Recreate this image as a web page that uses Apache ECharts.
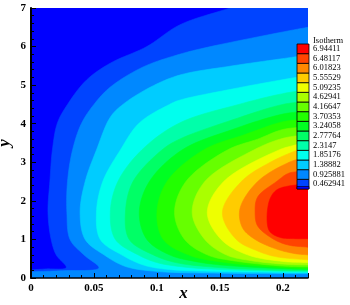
<!DOCTYPE html>
<html><head><meta charset="utf-8">
<script src="https://cdn.jsdelivr.net/npm/echarts@6/dist/echarts.min.js"></script>
<style>html,body{margin:0;padding:0;background:#fff}#c{width:350px;height:305px}</style>
</head><body><div id="c"></div>
<script>
// ---- data ----
const xTicks = [0, 0.05, 0.1, 0.15, 0.2];
const xTickLabels = ['0', '0.05', '0.1', '0.15', '0.2'];
const yTicks = [0, 1, 2, 3, 4, 5, 6, 7];
const yTickLabels = ['0', '1', '2', '3', '4', '5', '6', '7'];
const levels = [0.462941, 0.925881, 1.38882, 1.85176, 2.3147, 2.77764, 3.24058, 3.70353, 4.16647, 4.62941, 5.09235, 5.55529, 6.01823, 6.48117, 6.94411];
const levelLabels = ['0.462941', '0.925881', '1.38882', '1.85176', '2.3147', '2.77764', '3.24058', '3.70353', '4.16647', '4.62941', '5.09235', '5.55529', '6.01823', '6.48117', '6.94411'];

// isotherm lines (x, y), one per level
const iso1 = [[0.158,7],[0.118,6.56],[0.092,6.0],[0.063,5.57],[0.044,5.13],[0.029,4.5],[0.021,4.02],[0.017,3.32],[0.015,2.5],[0.0135,1.7],[0.016,1.0],[0.02,0.6],[0.028,0.27],[0.012,0.235],[0,0.21]];
const iso2 = [[0.22,6.5],[0.205,6.41],[0.14,5.98],[0.118,5.8],[0.089,5.47],[0.063,4.95],[0.05,4.5],[0.04,4.0],[0.033,3.32],[0.029,2.5],[0.0285,1.7],[0.031,1.0],[0.042,0.6],[0.054,0.26],[0.025,0.19],[0,0.16]];
const iso3 = [[0.22,5.78],[0.205,5.71],[0.16,5.5],[0.118,5.26],[0.095,4.95],[0.073,4.5],[0.063,4.17],[0.052,3.32],[0.043,2.5],[0.039,1.7],[0.043,1.0],[0.058,0.6],[0.075,0.3],[0.1,0.17],[0.15,0.125],[0.22,0.11]];
const iso4 = [[0.22,5.25],[0.205,5.17],[0.16,4.9],[0.118,4.61],[0.11,4.5],[0.086,4.02],[0.071,3.32],[0.057,2.5],[0.052,1.7],[0.055,1.0],[0.072,0.6],[0.09,0.33],[0.11,0.22],[0.15,0.17],[0.22,0.14]];
const iso5 = [[0.22,4.88],[0.2,4.78],[0.165,4.5],[0.118,4.02],[0.088,3.32],[0.069,2.5],[0.063,1.7],[0.067,1.0],[0.085,0.6],[0.1,0.4],[0.12,0.29],[0.15,0.22],[0.22,0.16]];
const iso6 = [[0.22,4.58],[0.2,4.5],[0.16,4.1],[0.118,3.6],[0.104,3.32],[0.081,2.5],[0.075,1.7],[0.078,1.0],[0.097,0.6],[0.115,0.4],[0.15,0.27],[0.2,0.2],[0.22,0.19]];
const iso7 = [[0.22,4.33],[0.2,4.25],[0.16,3.85],[0.12,3.32],[0.094,2.5],[0.086,1.7],[0.092,1.0],[0.11,0.6],[0.13,0.43],[0.15,0.34],[0.2,0.24],[0.22,0.22]];
const iso8 = [[0.22,4.12],[0.2,4.05],[0.17,3.72],[0.137,3.32],[0.108,2.5],[0.1,1.7],[0.105,1.0],[0.125,0.6],[0.15,0.42],[0.2,0.27],[0.22,0.25]];
const iso9 = [[0.22,3.92],[0.2,3.85],[0.18,3.6],[0.156,3.32],[0.123,2.5],[0.114,1.7],[0.122,1.0],[0.14,0.6],[0.16,0.45],[0.2,0.31],[0.22,0.29]];
const iso10 = [[0.22,3.72],[0.2,3.62],[0.177,3.32],[0.138,2.5],[0.128,1.7],[0.138,1.0],[0.155,0.6],[0.175,0.45],[0.2,0.36],[0.22,0.34]];
const iso11 = [[0.22,3.55],[0.21,3.45],[0.197,3.32],[0.153,2.5],[0.14,1.7],[0.151,1.0],[0.172,0.6],[0.2,0.43],[0.22,0.40]];
const iso12 = [[0.22,3.40],[0.212,3.32],[0.19,3.0],[0.167,2.5],[0.152,1.7],[0.163,1.0],[0.18,0.7],[0.195,0.55],[0.22,0.47]];
const iso13 = [[0.22,3.15],[0.205,3.0],[0.18,2.5],[0.166,1.8],[0.168,1.3],[0.178,1.0],[0.195,0.75],[0.21,0.63],[0.22,0.60]];
const iso14 = [[0.22,2.77],[0.205,2.72],[0.195,2.5],[0.18,2.1],[0.178,1.7],[0.18,1.35],[0.193,1.0],[0.205,0.85],[0.22,0.80]];
const iso15 = [[0.22,2.42],[0.21,2.41],[0.195,2.28],[0.189,1.97],[0.189,1.24],[0.197,1.06],[0.21,1.02],[0.22,1.02]];
const isolines = [iso1, iso2, iso3, iso4, iso5, iso6, iso7, iso8, iso9, iso10, iso11, iso12, iso13, iso14, iso15];

// ---- styling ----
const palette = ['#0000ff','#0044ff','#0088ff','#00ccff','#00ffee','#00ffaa','#00ff66','#00ff22',
                 '#22ff00','#66ff00','#aaff00','#eeff00','#ffcc00','#ff8800','#ff4400','#ff0000'];
const X_MIN = 0, X_MAX = 0.22, Y_MIN = 0, Y_MAX = 7;
const serif = "'Liberation Serif', 'DejaVu Serif', serif";

// centripetal Catmull-Rom drawing of a traced line (pixel space), passes through every traced point
function smoothPath(P, n) {
  if (P.length < 3) return P.slice();
  const ext = [[2*P[0][0]-P[1][0], 2*P[0][1]-P[1][1]]].concat(P,
    [[2*P[P.length-1][0]-P[P.length-2][0], 2*P[P.length-1][1]-P[P.length-2][1]]]);
  const out = [];
  const dist = (a, b) => Math.max(Math.pow(Math.hypot(b[0]-a[0], b[1]-a[1]), 0.5), 1e-4);
  const lerp = (a, b, ta, tb, t) => [a[0]*(tb-t)/(tb-ta) + b[0]*(t-ta)/(tb-ta), a[1]*(tb-t)/(tb-ta) + b[1]*(t-ta)/(tb-ta)];
  for (let i = 1; i < ext.length - 2; i++) {
    const p0 = ext[i-1], p1 = ext[i], p2 = ext[i+1], p3 = ext[i+2];
    const t0 = 0, t1 = t0 + dist(p0, p1), t2 = t1 + dist(p1, p2), t3 = t2 + dist(p2, p3);
    for (let j = 0; j < n; j++) {
      const t = t1 + (t2 - t1) * j / n;
      const A1 = lerp(p0, p1, t0, t1, t), A2 = lerp(p1, p2, t1, t2, t), A3 = lerp(p2, p3, t2, t3, t);
      const B1 = lerp(A1, A2, t0, t2, t), B2 = lerp(A2, A3, t1, t3, t);
      out.push(lerp(B1, B2, t1, t2, t));
    }
  }
  out.push(P[P.length-1]);
  return out;
}

// closing of each region (above the level) along the domain boundary
function closing(line) {
  const extra = [];
  const last = line[line.length - 1], first = line[0];
  if (last[0] === X_MIN) extra.push([X_MIN, Y_MIN], [X_MAX, Y_MIN]);
  if (first[1] === Y_MAX) extra.push([X_MAX, Y_MAX]);
  return extra;
}

function labelFor(ticks, labels) {
  return v => { const i = ticks.findIndex(t => Math.abs(t - v) < 1e-9); return i >= 0 ? labels[i] : ''; };
}

const chart = echarts.init(document.getElementById('c'), null, {renderer: 'canvas'});

const gridLeft = 31, gridTop = 8, gridRight = 42, gridBottom = 27;
// legend layout
const lgX = 297, lgW = 12, lgTop = 44, lgH = 145;
const boxH = lgH / levels.length;
const graphics = [];
levels.forEach((lv, i) => {
  const top = lgTop + (levels.length - 1 - i) * boxH;
  graphics.push({type: 'rect', shape: {x: lgX, y: top, width: lgW, height: boxH},
    style: {fill: palette[i + 1], stroke: '#000', lineWidth: 0.8}, z: 20});
  graphics.push({type: 'text', x: lgX + 16, y: top + boxH / 2,
    style: {text: levelLabels[i], fill: '#000', font: "8.5px " + serif, verticalAlign: 'middle'}, z: 20});
});
graphics.push({type: 'rect', shape: {x: lgX, y: lgTop + lgH - 2.5, width: lgW, height: 2.5},
  style: {fill: palette[0], stroke: '#000', lineWidth: 0.6}, z: 21});
graphics.push({type: 'text', x: lgX + 16, y: 41,
  style: {text: 'Isotherm', fill: '#000', font: "8.5px " + serif, verticalAlign: 'middle'}, z: 20});

chart.setOption({
  animation: false,
  backgroundColor: '#fff',
  grid: {left: gridLeft, right: gridRight, top: gridTop, bottom: gridBottom, show: true,
         backgroundColor: palette[0], borderWidth: 0, containLabel: false, outerBoundsMode: 'none'},
  xAxis: {
    type: 'value', min: X_MIN, max: X_MAX, interval: 0.05, z: 10,
    axisLine: {show: true, onZero: false, lineStyle: {color: '#000', width: 1.5}},
    axisTick: {show: true, inside: true, length: 5, lineStyle: {color: '#000', width: 1}},
    minorTick: {show: true, splitNumber: 5, length: 3, lineStyle: {color: '#000', width: 1}},
    splitLine: {show: false}, minorSplitLine: {show: false},
    axisLabel: {color: '#000', fontFamily: serif, fontWeight: 'bold', fontSize: 11, margin: 5,
                showMaxLabel: false, formatter: labelFor(xTicks, xTickLabels)},
    name: 'x', nameLocation: 'middle', nameGap: 7, nameMoveOverlap: false,
    nameTextStyle: {fontFamily: serif, fontStyle: 'italic', fontWeight: 'bold', fontSize: 17, color: '#000',
                    padding: [0, 0, 0, 28]}
  },
  yAxis: {
    type: 'value', min: Y_MIN, max: Y_MAX, interval: 1, z: 10,
    axisLine: {show: true, onZero: false, lineStyle: {color: '#000', width: 2}},
    axisTick: {show: true, inside: true, length: 5, lineStyle: {color: '#000', width: 1}},
    minorTick: {show: true, splitNumber: 5, length: 3, lineStyle: {color: '#000', width: 1}},
    splitLine: {show: false}, minorSplitLine: {show: false},
    axisLabel: {color: '#000', fontFamily: serif, fontWeight: 'bold', fontSize: 11, margin: 5,
                formatter: labelFor(yTicks, yTickLabels)},
    name: 'y', nameLocation: 'middle', nameGap: 18, nameRotate: 90, nameMoveOverlap: false,
    nameTextStyle: {fontFamily: serif, fontStyle: 'italic', fontWeight: 'bold', fontSize: 17, color: '#000'}
  },
  series: [{
    type: 'custom', coordinateSystem: 'cartesian2d', clip: true, z: 1,
    data: isolines.map((r, i) => [r[0][0], r[0][1], i]),
    renderItem: function (params, api) {
      const k = api.value(2);
      const line = isolines[k];
      const px = smoothPath(line.map(p => api.coord(p)), 10);
      const pts = px.concat(closing(line).map(p => api.coord(p)));
      return {type: 'polygon', shape: {points: pts},
              style: {fill: palette[k + 1], stroke: palette[k + 1], lineWidth: 0.6}};
    }
  }],
  graphic: graphics
});
</script></body></html>
